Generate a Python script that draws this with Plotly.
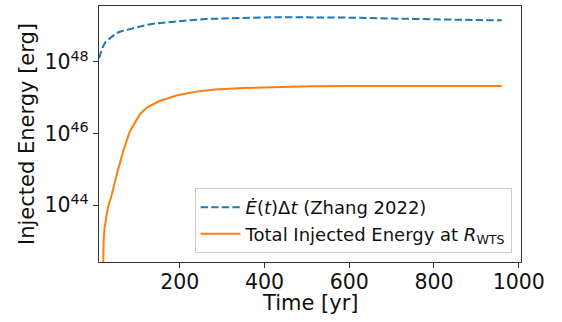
import plotly.graph_objects as go

# Time axis [yr] and injected energy [erg] for the two curves
t_edot = [9.5, 11, 15, 19, 25, 34.5, 42, 50, 60, 74, 86, 98, 120, 145, 170,
          192, 215, 239, 260, 283, 351, 430, 509, 588, 667, 745, 824, 903, 960]
e_edot = [1.29e48, 1.41e48, 2.00e48, 2.69e48, 3.63e48, 4.57e48, 5.50e48,
          6.31e48, 7.08e48, 7.76e48, 8.51e48, 9.33e48, 1.07e49, 1.20e49,
          1.29e49, 1.38e49, 1.45e49, 1.51e49, 1.58e49, 1.62e49, 1.70e49,
          1.78e49, 1.78e49, 1.74e49, 1.66e49, 1.58e49, 1.55e49, 1.48e49,
          1.45e49]

t_wts = [18.5, 19.5, 20.5, 22.7, 24.5, 26.7, 32, 38.5, 46, 54.5, 62, 67.6,
         82, 105, 115, 125, 153, 192, 239, 283, 351, 430, 509, 600, 700,
         800, 900, 960]
e_wts = [3.2e41, 5.5e42, 1.07e43, 2.5e43, 3.0e43, 4.8e43, 1.0e44, 1.74e44,
         4.1e44, 9.8e44, 2.0e45, 3.5e45, 1.12e46, 3.3e46, 4.4e46, 5.6e46,
         8.1e46, 1.15e47, 1.48e47, 1.70e47, 1.86e47, 2.0e47, 2.09e47,
         2.14e47, 2.14e47, 2.14e47, 2.14e47, 2.14e47]

x_ticks = [200, 400, 600, 800, 1000]
y_ticks = [1e44, 1e46, 1e48]
y_tick_text = ["10<sup>44</sup>", "10<sup>46</sup>", "10<sup>48</sup>"]

FONT = "DejaVu Sans"
AXIS_COLOR = "#333333"
TEXT_COLOR = "#111111"

fig = go.Figure()
fig.add_trace(go.Scatter(
    x=t_edot, y=e_edot, mode="lines",
    name="<i>Ė</i>(<i>t</i>)Δ<i>t</i> (Zhang 2022)",
    line=dict(color="#1f77b4", width=2, dash="7.4px,3.2px"),
))
fig.add_trace(go.Scatter(
    x=t_wts, y=e_wts, mode="lines",
    name="Total Injected Energy at <i>R</i><sub>WTS</sub>",
    line=dict(color="#ff7f0e", width=2),
))

axis_common = dict(
    showline=True, mirror=True, linecolor=AXIS_COLOR, linewidth=1.3,
    ticks="outside", ticklen=5, tickwidth=1.1, tickcolor=AXIS_COLOR,
    showgrid=False, zeroline=False,
    tickfont=dict(family=FONT, size=20.5, color=TEXT_COLOR),
)

fig.update_xaxes(
    range=[9.5, 1005.4], tickvals=x_ticks, ticklabelstandoff=-4,
    **axis_common,
)
fig.update_yaxes(
    type="log", range=[42.41, 49.563],
    tickvals=y_ticks, ticktext=y_tick_text,
    title=dict(text="Injected Energy [erg]",
               font=dict(family=FONT, size=21, color=TEXT_COLOR), standoff=4),
    **axis_common,
)

# x-axis title placed just under the tick labels
fig.add_annotation(
    text="Time [yr]", xref="paper", yref="paper", x=0.5, y=-0.161,
    xanchor="center", yanchor="middle", showarrow=False,
    font=dict(family=FONT, size=21, color=TEXT_COLOR),
)

fig.update_layout(
    width=562, height=322,
    margin=dict(l=99, r=41, t=6, b=60, autoexpand=False),
    paper_bgcolor="white", plot_bgcolor="white",
    font=dict(family=FONT, color=TEXT_COLOR),
    legend=dict(
        x=0.9777, y=0.035, xanchor="right", yanchor="bottom",
        bgcolor="rgba(255,255,255,0.8)", bordercolor="#cccccc", borderwidth=1,
        font=dict(family=FONT, size=18, color=TEXT_COLOR),
        tracegroupgap=4, itemwidth=40,
    ),
    showlegend=True,
)

fig.write_html("out.html")
